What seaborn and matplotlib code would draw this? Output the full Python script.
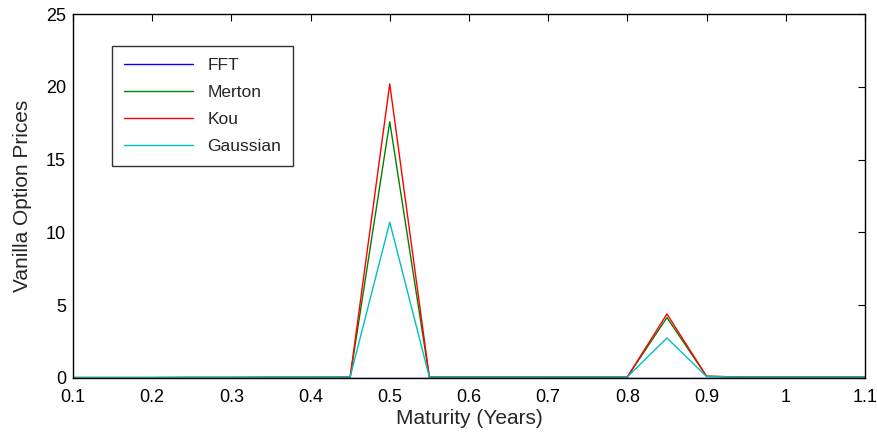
import numpy as np
import pandas as pd
import matplotlib
matplotlib.use("Agg")
import matplotlib.pyplot as plt
import seaborn as sns

# Maturities (years)
maturity = [0.10, 0.15, 0.20, 0.25, 0.30, 0.35, 0.40, 0.45, 0.50, 0.55,
            0.60, 0.65, 0.70, 0.75, 0.80, 0.85, 0.90, 0.95, 1.00, 1.05, 1.10]

# Vanilla option prices per model
fft_prices = [0.00, 0.00, 0.00, 0.00, 0.00, 0.00, 0.00, 0.00, 0.00, 0.00,
              0.00, 0.00, 0.00, 0.00, 0.00, 0.00, 0.00, 0.00, 0.00, 0.00, 0.00]
merton_prices = [0.03, 0.03, 0.03, 0.04, 0.04, 0.05, 0.05, 0.06, 17.6, 0.06,
                 0.06, 0.06, 0.07, 0.07, 0.07, 4.15, 0.12, 0.06, 0.06, 0.06, 0.06]
kou_prices = [0.03, 0.03, 0.03, 0.04, 0.04, 0.05, 0.05, 0.06, 20.2, 0.06,
              0.06, 0.06, 0.07, 0.07, 0.07, 4.40, 0.12, 0.06, 0.06, 0.06, 0.06]
gaussian_prices = [0.03, 0.03, 0.03, 0.04, 0.04, 0.05, 0.05, 0.06, 10.7, 0.06,
                   0.06, 0.06, 0.07, 0.07, 0.07, 2.75, 0.10, 0.06, 0.06, 0.06, 0.06]

models = ["FFT", "Merton", "Kou", "Gaussian"]
series = [fft_prices, merton_prices, kou_prices, gaussian_prices]
palette = {"FFT": "#0000ff", "Merton": "#008000", "Kou": "#ff0000", "Gaussian": "#00bfbf"}

df = pd.concat(
    [pd.DataFrame({"Maturity": maturity, "Price": vals, "Model": name})
     for name, vals in zip(models, series)],
    ignore_index=True,
)

sns.set_style("white")
plt.rcParams["font.family"] = ["Liberation Sans", "DejaVu Sans"]

fig = plt.figure(figsize=(8.78, 4.38), dpi=100)
ax = fig.add_axes([0.0831, 0.137, 0.902, 0.831])

sns.lineplot(data=df, x="Maturity", y="Price", hue="Model", hue_order=models,
             palette=palette, linewidth=1.0, ax=ax, legend=True)

ax.set_xlim(0.1, 1.1)
ax.set_ylim(0, 25)
ax.set_xticks(np.round(np.arange(0.1, 1.101, 0.1), 1))
ax.set_xticklabels(["0.1", "0.2", "0.3", "0.4", "0.5", "0.6", "0.7", "0.8", "0.9", "1", "1.1"])
ax.set_yticks([0, 5, 10, 15, 20, 25])
ax.tick_params(direction="in", length=5, width=0.8, top=True, right=True,
               labelsize=13, colors="black")
ax.tick_params(axis="x", pad=8)
ax.tick_params(axis="y", pad=5)
for s in ax.spines.values():
    s.set_color("black")
    s.set_linewidth(1.0)

ax.set_xlabel("Maturity (Years)", fontsize=15, labelpad=2)
ax.set_ylabel("Vanilla Option Prices", fontsize=15, labelpad=10)

leg = ax.legend(loc="upper left", bbox_to_anchor=(0.049, 0.912), borderaxespad=0,
                fontsize=12.5, frameon=True, fancybox=False, handlelength=4.0,
                labelspacing=0.68, borderpad=0.7, handletextpad=0.8)
leg.get_frame().set_edgecolor("black")
leg.get_frame().set_linewidth(1.0)
leg.set_title(None)

fig.savefig("out.png", dpi=100, facecolor="white")
